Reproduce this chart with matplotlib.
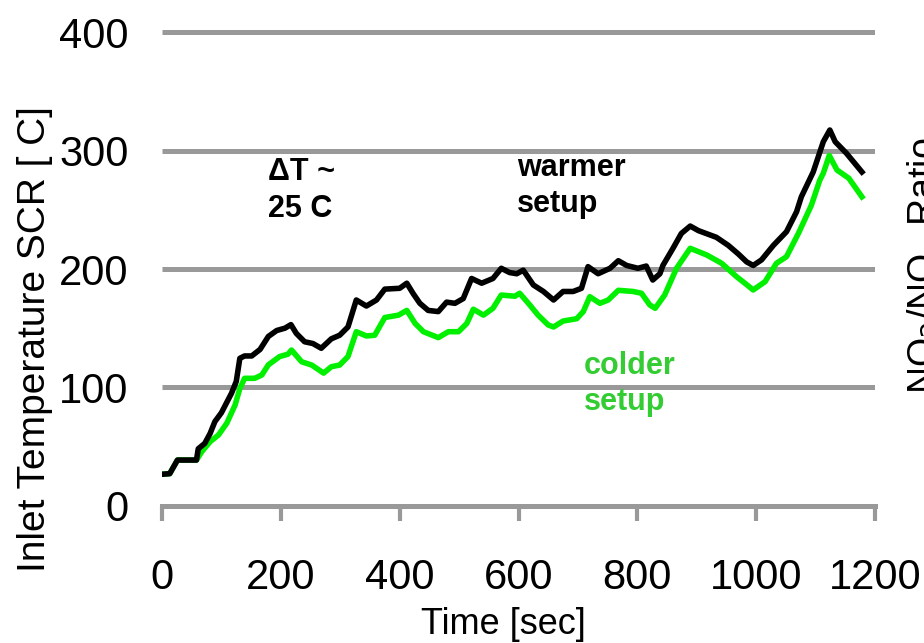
import matplotlib
matplotlib.use("Agg")
import matplotlib.pyplot as plt

plt.rcParams['font.family'] = ['Liberation Sans', 'DejaVu Sans']

# Warmer setup (black)
warm_t = [0, 13, 26, 58, 61, 72, 81, 89, 100, 117, 125, 131, 139, 151, 165, 179, 193, 207, 217,
          226, 240, 254, 268, 285, 299, 313, 327, 344, 361, 375, 400, 412, 423, 434, 448, 465,
          479, 493, 507, 521, 538, 557, 571, 585, 597, 608, 625, 642, 659, 675, 692, 706, 717,
          734, 754, 768, 782, 801, 815, 826, 838, 843, 860, 874, 889, 903, 933, 953, 970, 984,
          995, 1009, 1029, 1051, 1068, 1076, 1096, 1113, 1124, 1133, 1152, 1178]
warm_T = [26.5, 27, 38.5, 38.5, 48, 52.6, 61, 71, 78.5, 95, 105, 124.5, 126.5, 126.5, 132, 143,
          148, 150, 153, 145.6, 138.5, 137, 133, 141, 144, 151, 173.8, 168.7, 173.8, 183, 183.7,
          188, 179, 171, 165, 164, 172, 171, 175, 192, 188, 192, 200.6, 197, 196, 199, 186.5,
          181, 173.8, 181, 181, 183.7, 202, 196, 200.6, 207, 203, 200.6, 202.5, 190.7, 196,
          203, 217.5, 230, 236.3, 232.4, 226.8, 220, 212.7, 206, 203, 207.7, 220, 231.5, 248.4,
          261, 282, 307.6, 317.5, 307.6, 297.8, 282]

# Colder setup (green)
cold_t = [0, 13, 26, 58, 67, 81, 95, 109, 123, 131, 139, 156, 168, 179, 198, 212, 218, 235, 252,
          272, 285, 299, 313, 327, 344, 358, 375, 398, 412, 426, 440, 465, 482, 499, 513, 524,
          541, 557, 571, 594, 602, 619, 633, 650, 659, 675, 698, 709, 720, 737, 751, 768, 793,
          807, 821, 830, 846, 866, 889, 917, 942, 967, 981, 995, 1015, 1034, 1051, 1071, 1093,
          1107, 1113, 1123, 1136, 1156, 1178]
cold_T = [26.5, 27, 38.5, 38.5, 45.6, 54, 59.7, 69.6, 85, 99, 107.6, 107.6, 110.4, 119, 126, 128,
          131.5, 121.6, 118.8, 112, 117.4, 118.8, 126, 147, 143.4, 144, 159, 161, 165, 154, 147,
          142, 147, 147, 154, 166, 161, 166.8, 178, 177, 179.5, 169.6, 161, 152.7, 151, 156,
          158, 164, 176.6, 171, 173.8, 182, 181, 179.5, 169.6, 166.8, 178, 200.6, 217.5, 211.8,
          204.8, 193.5, 188, 182.3, 189.3, 204.8, 210.4, 230, 254, 275, 281, 296, 283.7, 276.7,
          261]

x_ticks = [0, 200, 400, 600, 800, 1000, 1200]
y_ticks = [0, 100, 200, 300, 400]

GRAY = '#999999'

fig = plt.figure(figsize=(9.24, 6.43), dpi=100)
ax = fig.add_axes([162 / 924, 1 - 505.6 / 643, 713 / 924, (505.6 - 26.5) / 643])

for yv in y_ticks[1:]:
    ax.axhline(yv, color=GRAY, lw=3.6, zorder=1, solid_capstyle='butt')

ax.plot(cold_t, cold_T, color='#00f000', lw=4, zorder=3, solid_joinstyle='round')
ax.plot(warm_t, warm_T, color='black', lw=4, zorder=4, solid_joinstyle='round')

ax.set_xlim(0, 1200)
ax.set_ylim(0, 405)
ax.set_xticks(x_ticks)
ax.set_yticks(y_ticks)
ax.set_xticklabels([str(v) for v in x_ticks], fontsize=30)
ax.set_yticklabels([str(v) for v in y_ticks], fontsize=30)

for s in ['top', 'right', 'left']:
    ax.spines[s].set_visible(False)
ax.spines['bottom'].set_color(GRAY)
ax.spines['bottom'].set_linewidth(3.6)
ax.tick_params(axis='x', direction='out', length=11, width=3, color=GRAY, pad=27)
ax.tick_params(axis='y', length=0, pad=24)

fig.text(35 / 924, 1 - 339 / 643, 'Inlet Temperature SCR [ C]', rotation=90,
         ha='center', va='center', fontsize=28)
fig.text(503 / 924, 1 - 625 / 643, 'Time [sec]', ha='center', va='center', fontsize=26)
fig.text(906 / 924, 1 - 266 / 643, r'NO$_2$/NO$_x$ Ratio', rotation=90,
         ha='left', va='center', fontsize=27)

ax.text(178, 266, 'ΔT ~\n25 C', ha='left', va='center', fontsize=22,
        fontweight='bold', linespacing=1.3)
ax.text(597, 270, 'warmer\nsetup', ha='left', va='center', fontsize=22,
        fontweight='bold', linespacing=1.25)
ax.text(710, 103, 'colder\nsetup', ha='left', va='center', fontsize=22,
        fontweight='bold', color='#33cc33', linespacing=1.25)

fig.savefig('out.png', dpi=100)
